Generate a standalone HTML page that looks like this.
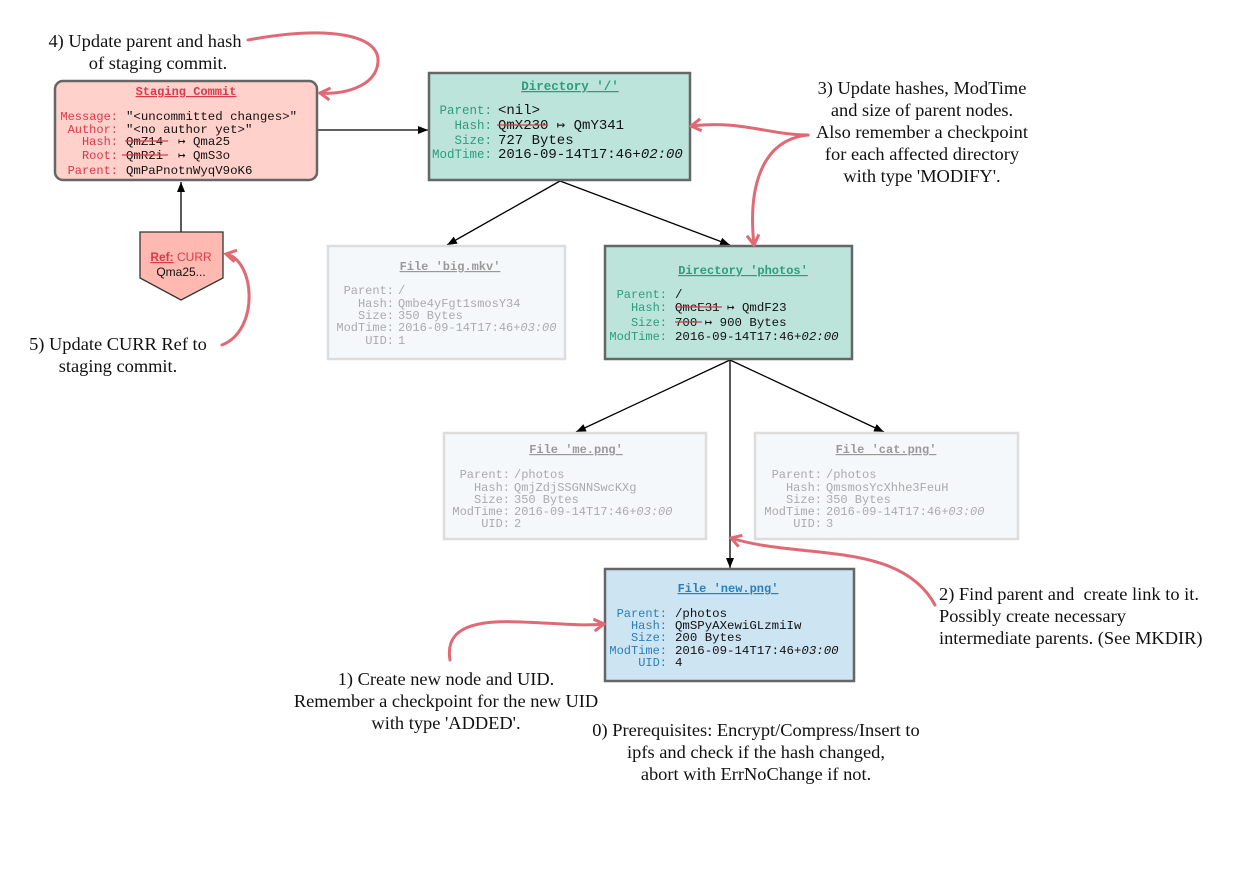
<!DOCTYPE html>
<html><head><meta charset="utf-8"><style>
html,body{margin:0;padding:0;background:#fff;}
svg{display:block;}
.m{font-family:"Liberation Mono",monospace;font-size:12px;}
.s{font-family:"Liberation Serif",serif;font-size:18.4px;fill:#111;}
.lbl{text-anchor:end;}
</style></head><body>
<svg width="1244" height="877" viewBox="0 0 1244 877" xmlns="http://www.w3.org/2000/svg">
<defs>
<marker id="ab" markerWidth="10" markerHeight="8" refX="10" refY="4" orient="auto" markerUnits="userSpaceOnUse"><path d="M0,0 L10,4 L0,8 z" fill="#000"/></marker>
<marker id="ar" markerWidth="14" markerHeight="14" refX="11" refY="7" orient="auto" markerUnits="userSpaceOnUse"><path d="M1,1 L11,7 L1,13" fill="none" stroke="#df6a75" stroke-width="3"/></marker>
</defs>

<g stroke="#000" stroke-width="1.3" fill="none">
<line x1="318" y1="130" x2="428" y2="130" marker-end="url(#ab)"/>
<line x1="181" y1="232" x2="181" y2="182" marker-end="url(#ab)"/>
<line x1="560" y1="181" x2="447" y2="245" marker-end="url(#ab)"/>
<line x1="560" y1="181" x2="730" y2="245" marker-end="url(#ab)"/>
<line x1="730" y1="360" x2="576" y2="432" marker-end="url(#ab)"/>
<line x1="730" y1="360" x2="884" y2="432" marker-end="url(#ab)"/>
<line x1="730" y1="360" x2="730" y2="568" marker-end="url(#ab)"/>
</g>

<!-- Staging commit -->
<rect x="55" y="81" width="262" height="99" rx="8" fill="#ffd1ca" stroke="#666" stroke-width="2.5"/>
<text class="m" x="186" y="95" text-anchor="middle" fill="#d63a4a" font-weight="bold" text-decoration="underline">Staging Commit</text>
<g class="m" fill="#d63a4a">
<text class="lbl" x="118" y="120">Message:</text>
<text class="lbl" x="118" y="133">Author:</text>
<text class="lbl" x="118" y="145">Hash:</text>
<text class="lbl" x="118" y="159">Root:</text>
<text class="lbl" x="118" y="174">Parent:</text>
</g>
<g class="m" fill="#111" style="font-size:12.4px">
<text x="126" y="120">"&lt;uncommitted changes&gt;"</text>
<text x="126" y="133">"&lt;no author yet&gt;"</text>
<text x="126" y="145" xml:space="preserve">QmZ14  ↦ Qma25</text>
<text x="126" y="159" xml:space="preserve">QmR2i  ↦ QmS3o</text>
<text x="126" y="174">QmPaPnotnWyqV9oK6</text>
</g>
<line x1="125" y1="141" x2="168" y2="141" stroke="#d63a4a" stroke-width="1.3"/>
<line x1="122" y1="155" x2="168" y2="155" stroke="#d63a4a" stroke-width="1.3"/>

<!-- Ref -->
<polygon points="140,232 223,232 223,278 181,300 140,278" fill="#ffb9b0" stroke="#333" stroke-width="1.3"/>
<text x="181" y="261" text-anchor="middle" font-family="Liberation Sans, sans-serif" font-size="12" fill="#d63a4a"><tspan font-weight="bold" text-decoration="underline">Ref:</tspan> CURR</text>
<text x="181" y="276" text-anchor="middle" font-family="Liberation Sans, sans-serif" font-size="12" fill="#111">Qma25...</text>

<!-- Directory / -->
<rect x="429" y="73" width="261" height="107" fill="#bce4da" stroke="#666" stroke-width="2.5"/>
<text class="m" x="570" y="90" text-anchor="middle" fill="#2a9d7f" font-weight="bold" text-decoration="underline" style="font-size:12.5px">Directory '/'</text>
<g class="m" fill="#2a9d7f" style="font-size:12.5px">
<text class="lbl" x="492" y="114">Parent:</text>
<text class="lbl" x="492" y="129">Hash:</text>
<text class="lbl" x="492" y="144">Size:</text>
<text class="lbl" x="492" y="158">ModTime:</text>
</g>
<g class="m" fill="#111" style="font-size:14px">
<text x="498" y="114">&lt;nil&gt;</text>
<text x="498" y="129">QmX230 ↦ QmY341</text>
<text x="498" y="144">727 Bytes</text>
<text x="498" y="158">2016-09-14T17:46+<tspan font-style="italic">02:00</tspan></text>
</g>
<line x1="497" y1="125" x2="548" y2="125" stroke="#d63a4a" stroke-width="1.3"/>

<!-- big.mkv -->
<rect x="328" y="246" width="237" height="113" fill="#f5f8fa" stroke="#ddd" stroke-width="2.5"/>
<text class="m" x="450" y="270" text-anchor="middle" fill="#999" font-weight="bold" text-decoration="underline">File 'big.mkv'</text>
<g class="m" fill="#aaa">
<text class="lbl" x="394" y="294">Parent:</text>
<text class="lbl" x="394" y="307">Hash:</text>
<text class="lbl" x="394" y="319">Size:</text>
<text class="lbl" x="394" y="331">ModTime:</text>
<text class="lbl" x="394" y="344">UID:</text>
<text x="398" y="294">/</text>
<text x="398" y="307">Qmbe4yFgt1smosY34</text>
<text x="398" y="319">350 Bytes</text>
<text x="398" y="331">2016-09-14T17:46+<tspan font-style="italic">03:00</tspan></text>
<text x="398" y="344">1</text>
</g>

<!-- photos -->
<rect x="605" y="246" width="247" height="113" fill="#bce4da" stroke="#666" stroke-width="2.5"/>
<text class="m" x="743" y="274" text-anchor="middle" fill="#2a9d7f" font-weight="bold" text-decoration="underline">Directory 'photos'</text>
<g class="m" fill="#2a9d7f">
<text class="lbl" x="667" y="298">Parent:</text>
<text class="lbl" x="667" y="311">Hash:</text>
<text class="lbl" x="667" y="326">Size:</text>
<text class="lbl" x="667" y="340">ModTime:</text>
</g>
<g class="m" fill="#111" style="font-size:12.4px">
<text x="675" y="298">/</text>
<text x="675" y="311">QmcE31 ↦ QmdF23</text>
<text x="675" y="326">700 ↦ 900 Bytes</text>
<text x="675" y="340">2016-09-14T17:46+<tspan font-style="italic">02:00</tspan></text>
</g>
<line x1="675" y1="307" x2="722" y2="307" stroke="#d63a4a" stroke-width="1.3"/>
<line x1="675" y1="322" x2="702" y2="322" stroke="#d63a4a" stroke-width="1.3"/>

<!-- me.png -->
<rect x="444" y="433" width="262" height="106" fill="#f5f8fa" stroke="#ddd" stroke-width="2.5"/>
<text class="m" x="576" y="453" text-anchor="middle" fill="#999" font-weight="bold" text-decoration="underline">File 'me.png'</text>
<g class="m" fill="#aaa">
<text class="lbl" x="510" y="478">Parent:</text>
<text class="lbl" x="510" y="491">Hash:</text>
<text class="lbl" x="510" y="503">Size:</text>
<text class="lbl" x="510" y="515">ModTime:</text>
<text class="lbl" x="510" y="527">UID:</text>
<text x="514" y="478">/photos</text>
<text x="514" y="491">QmjZdjSSGNNSwcKXg</text>
<text x="514" y="503">350 Bytes</text>
<text x="514" y="515">2016-09-14T17:46+<tspan font-style="italic">03:00</tspan></text>
<text x="514" y="527">2</text>
</g>

<!-- cat.png -->
<rect x="755" y="433" width="263" height="106" fill="#f5f8fa" stroke="#ddd" stroke-width="2.5"/>
<text class="m" x="886" y="453" text-anchor="middle" fill="#999" font-weight="bold" text-decoration="underline">File 'cat.png'</text>
<g class="m" fill="#aaa">
<text class="lbl" x="822" y="478">Parent:</text>
<text class="lbl" x="822" y="491">Hash:</text>
<text class="lbl" x="822" y="503">Size:</text>
<text class="lbl" x="822" y="515">ModTime:</text>
<text class="lbl" x="822" y="527">UID:</text>
<text x="826" y="478">/photos</text>
<text x="826" y="491">QmsmosYcXhhe3FeuH</text>
<text x="826" y="503">350 Bytes</text>
<text x="826" y="515">2016-09-14T17:46+<tspan font-style="italic">03:00</tspan></text>
<text x="826" y="527">3</text>
</g>

<!-- new.png -->
<rect x="605" y="569" width="249" height="112" fill="#cde4f3" stroke="#666" stroke-width="2.5"/>
<text class="m" x="728" y="592" text-anchor="middle" fill="#2a7fba" font-weight="bold" text-decoration="underline">File 'new.png'</text>
<g class="m" fill="#2a7fba">
<text class="lbl" x="667" y="617">Parent:</text>
<text class="lbl" x="667" y="629">Hash:</text>
<text class="lbl" x="667" y="641">Size:</text>
<text class="lbl" x="667" y="654">ModTime:</text>
<text class="lbl" x="667" y="666">UID:</text>
</g>
<g class="m" fill="#111" style="font-size:12.4px">
<text x="675" y="617">/photos</text>
<text x="675" y="629">QmSPyAXewiGLzmiIw</text>
<text x="675" y="641">200 Bytes</text>
<text x="675" y="654">2016-09-14T17:46+<tspan font-style="italic">03:00</tspan></text>
<text x="675" y="666">4</text>
</g>

<g stroke="#df6a75" stroke-width="3" fill="none" stroke-linecap="round">
<path d="M248,40 C330,25 380,35 378,62 C376,88 340,95 320,93" marker-end="url(#ar)"/>
<path d="M808,135 C770,135 740,120 691,126" marker-end="url(#ar)"/>
<path d="M808,135 C760,140 748,190 754,245" marker-end="url(#ar)"/>
<path d="M222,345 C260,330 255,260 226,254" marker-end="url(#ar)"/>
<path d="M935,605 C900,540 800,560 731,538" marker-end="url(#ar)"/>
<path d="M450,660 C440,600 550,630 604,624" marker-end="url(#ar)"/>
</g>

<g class="s" text-anchor="middle">
<text x="145" y="47">4) Update parent and hash</text>
<text x="158" y="69">of staging commit.</text>
<text x="922" y="94">3) Update hashes, ModTime</text>
<text x="922" y="116">and size of parent nodes.</text>
<text x="922" y="138">Also remember a checkpoint</text>
<text x="922" y="160">for each affected directory</text>
<text x="922" y="182">with type 'MODIFY'.</text>
<text x="118" y="350">5) Update CURR Ref to</text>
<text x="118" y="372">staging commit.</text>
<text x="446" y="685">1) Create new node and UID.</text>
<text x="446" y="707">Remember a checkpoint for the new UID</text>
<text x="446" y="729">with type 'ADDED'.</text>
<text x="756" y="736">0) Prerequisites: Encrypt/Compress/Insert to</text>
<text x="756" y="758">ipfs and check if the hash changed,</text>
<text x="756" y="780">abort with ErrNoChange if not.</text>
</g>
<g class="s">
<text x="939" y="600" xml:space="preserve">2) Find parent and  create link to it.</text>
<text x="939" y="622">Possibly create necessary</text>
<text x="939" y="644">intermediate parents. (See MKDIR)</text>
</g>
</svg>
</body></html>
